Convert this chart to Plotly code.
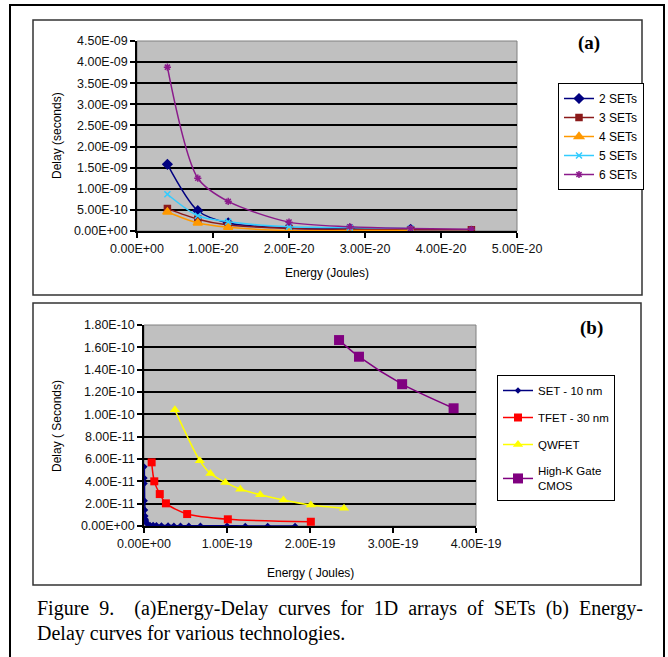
import plotly.graph_objects as go

W, H = 668, 657

# ---------------- Panel (a) data : Energy (J) vs Delay (s) ----------------
a_names = ["2 SETs", "3 SETs", "4 SETs", "5 SETs", "6 SETs"]
a_energy = {
    "2 SETs": [0.40e-20, 0.80e-20, 1.20e-20, 2.00e-20, 2.80e-20, 3.60e-20],
    "3 SETs": [0.40e-20, 0.80e-20, 1.20e-20, 2.00e-20, 2.80e-20, 3.60e-20, 4.40e-20],
    "4 SETs": [0.40e-20, 0.80e-20, 1.20e-20, 2.00e-20, 2.80e-20, 3.60e-20],
    "5 SETs": [0.40e-20, 0.80e-20, 1.20e-20, 2.00e-20, 2.80e-20, 3.60e-20],
    "6 SETs": [0.40e-20, 0.80e-20, 1.20e-20, 2.00e-20, 2.80e-20, 3.60e-20, 4.40e-20],
}
a_delay = {
    "2 SETs": [1.58e-9, 0.48e-9, 0.19e-9, 0.07e-9, 0.05e-9, 0.04e-9],
    "3 SETs": [0.53e-9, 0.28e-9, 0.14e-9, 0.06e-9, 0.04e-9, 0.03e-9, 0.03e-9],
    "4 SETs": [0.45e-9, 0.19e-9, 0.09e-9, 0.01e-9, 0.01e-9, 0.01e-9],
    "5 SETs": [0.87e-9, 0.36e-9, 0.22e-9, 0.10e-9, 0.08e-9, 0.06e-9],
    "6 SETs": [3.88e-9, 1.25e-9, 0.70e-9, 0.21e-9, 0.10e-9, 0.06e-9, 0.04e-9],
}
a_colors = ["#000080", "#8B1A1A", "#FF9900", "#33CCFF", "#8B1A8B"]
a_symbols = ["diamond", "square", "triangle-up", "x-thin-open", "asterisk-open"]
a_sizes = [7, 6, 8, 6, 6]

a_xticks = [0, 1e-20, 2e-20, 3e-20, 4e-20, 5e-20]
a_xticklabels = ["0.00E+00", "1.00E-20", "2.00E-20", "3.00E-20", "4.00E-20", "5.00E-20"]
a_yticks = [0, 0.5e-9, 1.0e-9, 1.5e-9, 2.0e-9, 2.5e-9, 3.0e-9, 3.5e-9, 4.0e-9, 4.5e-9]
a_yticklabels = ["0.00E+00", "5.00E-10", "1.00E-09", "1.50E-09", "2.00E-09",
                 "2.50E-09", "3.00E-09", "3.50E-09", "4.00E-09", "4.50E-09"]

# ---------------- Panel (b) data ----------------
b_names = ["SET - 10 nm", "TFET - 30 nm", "QWFET", "High-K Gate<br>CMOS"]
b_energy = {
    "SET - 10 nm": [0.004e-19, 0.005e-19, 0.006e-19, 0.008e-19, 0.012e-19, 0.016e-19,
                    0.020e-19, 0.025e-19, 0.030e-19, 0.040e-19, 0.072e-19, 0.11e-19,
                    0.15e-19, 0.21e-19, 0.29e-19, 0.36e-19, 0.44e-19, 0.54e-19,
                    0.68e-19, 1.00e-19, 1.22e-19, 1.49e-19, 1.82e-19],
    "TFET - 30 nm": [0.092e-19, 0.124e-19, 0.19e-19, 0.264e-19, 0.52e-19, 1.01e-19, 2.01e-19],
    "QWFET": [0.372e-19, 0.672e-19, 0.80e-19, 0.98e-19, 1.16e-19, 1.40e-19, 1.68e-19,
              2.01e-19, 2.41e-19],
    "High-K Gate<br>CMOS": [2.35e-19, 2.59e-19, 3.11e-19, 3.73e-19],
}
b_delay = {
    "SET - 10 nm": [0.53e-10, 0.43e-10, 0.38e-10, 0.227e-10, 0.143e-10, 0.09e-10,
                    0.06e-10, 0.045e-10, 0.03e-10, 0.015e-10, 0.010e-10, 0.008e-10,
                    0.006e-10, 0.005e-10, 0.004e-10, 0.003e-10, 0.003e-10, 0.002e-10,
                    0.002e-10, 0.002e-10, 0.001e-10, 0.001e-10, 0.001e-10],
    "TFET - 30 nm": [0.57e-10, 0.40e-10, 0.286e-10, 0.203e-10, 0.107e-10, 0.06e-10, 0.038e-10],
    "QWFET": [1.04e-10, 0.585e-10, 0.47e-10, 0.39e-10, 0.33e-10, 0.28e-10, 0.233e-10,
              0.188e-10, 0.158e-10],
    "High-K Gate<br>CMOS": [1.665e-10, 1.516e-10, 1.27e-10, 1.054e-10],
}
b_colors = ["#000080", "#FF0000", "#FFFF00", "#800080"]
b_symbols = ["diamond", "square", "triangle-up", "square"]
b_sizes = [5, 8, 9, 10]

b_xticks = [0, 1e-19, 2e-19, 3e-19, 4e-19]
b_xticklabels = ["0.00E+00", "1.00E-19", "2.00E-19", "3.00E-19", "4.00E-19"]
b_yticks = [0, 0.2e-10, 0.4e-10, 0.6e-10, 0.8e-10, 1.0e-10, 1.2e-10, 1.4e-10, 1.6e-10, 1.8e-10]
b_yticklabels = ["0.00E+00", "2.00E-11", "4.00E-11", "6.00E-11", "8.00E-11",
                 "1.00E-10", "1.20E-10", "1.40E-10", "1.60E-10", "1.80E-10"]

caption_line1 = "Figure 9.  (a)Energy-Delay curves for 1D arrays of SETs (b) Energy-"
caption_line2 = "Delay curves for various technologies."


def px(x):
    return x / W


def py(y):
    return 1 - y / H


fig = go.Figure()

for i, n in enumerate(a_names):
    fig.add_trace(go.Scatter(
        x=a_energy[n], y=a_delay[n], name=n, mode="lines+markers",
        line=dict(color=a_colors[i], width=1.5, shape="spline", smoothing=0.8),
        marker=dict(symbol=a_symbols[i], size=a_sizes[i], color=a_colors[i],
                    line=dict(color=a_colors[i], width=1.5)),
        xaxis="x", yaxis="y", legend="legend",
    ))

for i, n in enumerate(b_names):
    fig.add_trace(go.Scatter(
        x=b_energy[n], y=b_delay[n], name=n, mode="lines+markers",
        line=dict(color=b_colors[i], width=1.5, shape="spline",
                  smoothing=0.5 if i == 0 else 0.8),
        marker=dict(symbol=b_symbols[i], size=b_sizes[i], color=b_colors[i]),
        xaxis="x2", yaxis="y2", legend="legend2", legendgroup=n,
    ))

tickfont = dict(family="Liberation Sans, Arial", size=12.5, color="#111")
axis_common = dict(showline=True, linecolor="black", linewidth=1.5, ticks="outside",
                   ticklen=5, tickwidth=1.5, tickcolor="black", tickfont=tickfont,
                   zeroline=False, automargin=False)

fig.update_layout(
    template="none",
    width=W, height=H, margin=dict(l=0, r=0, t=0, b=0, pad=0, autoexpand=False),
    paper_bgcolor="white", plot_bgcolor="#C0C0C0",
    xaxis=dict(domain=[px(137), px(517)], anchor="y", range=[0, 5e-20],
               tickvals=a_xticks, ticktext=a_xticklabels, showgrid=False, **axis_common),
    yaxis=dict(domain=[py(231), py(41)], anchor="x", range=[0, 4.5e-9],
               tickvals=a_yticks, ticktext=a_yticklabels, showgrid=True,
               gridcolor="black", gridwidth=1.5, **axis_common),
    xaxis2=dict(domain=[px(144), px(476)], anchor="y2", range=[0, 4e-19],
                tickvals=b_xticks, ticktext=b_xticklabels, showgrid=False, **axis_common),
    yaxis2=dict(domain=[py(526), py(325)], anchor="x2", range=[0, 1.8e-10],
                tickvals=b_yticks, ticktext=b_yticklabels, showgrid=True,
                gridcolor="black", gridwidth=1.5, **axis_common),
    legend=dict(x=px(558), y=py(83), xanchor="left", yanchor="top",
                bordercolor="black", borderwidth=1, bgcolor="white",
                font=dict(family="Liberation Sans, Arial", size=12, color="black"),
                tracegroupgap=0, itemwidth=30),
    legend2=dict(x=px(497), y=py(375), xanchor="left", yanchor="top",
                 bordercolor="black", borderwidth=1, bgcolor="white",
                 font=dict(family="Liberation Sans, Arial", size=11.5, color="black"),
                 tracegroupgap=8, itemwidth=30),
    showlegend=True,
)

shapes = []
# outer frame
shapes.append(dict(type="rect", xref="paper", yref="paper", x0=px(10), x1=px(664),
                   y0=py(700), y1=py(5), line=dict(color="black", width=2)))
# panel boxes
shapes.append(dict(type="rect", xref="paper", yref="paper", x0=px(33), x1=px(642),
                   y0=py(295), y1=py(20), line=dict(color="#333", width=1.5)))
shapes.append(dict(type="rect", xref="paper", yref="paper", x0=px(33), x1=px(641),
                   y0=py(585), y1=py(303), line=dict(color="#333", width=1.5)))
# plot area borders (gray)
shapes.append(dict(type="rect", xref="paper", yref="paper", x0=px(137), x1=px(517),
                   y0=py(231), y1=py(41), line=dict(color="#808080", width=1), layer="below"))
shapes.append(dict(type="rect", xref="paper", yref="paper", x0=px(144), x1=px(476),
                   y0=py(526), y1=py(325), line=dict(color="#808080", width=1), layer="below"))
fig.update_layout(shapes=shapes)

title_font = dict(family="Liberation Sans, Arial", size=12, color="black")
cap_font = dict(family="Liberation Serif, Times New Roman", size=20, color="black")
ann = [
    dict(text="Delay (seconds)", x=px(57), y=py(136), textangle=-90, font=title_font),
    dict(text="Energy (Joules)", x=px(327), y=py(273), font=title_font),
    dict(text="Delay ( Seconds)", x=px(57), y=py(426), textangle=-90, font=title_font),
    dict(text="Energy ( Joules)", x=px(310), y=py(573), font=title_font),
    dict(text="<b>(a)</b>", x=px(589), y=py(43),
         font=dict(family="Liberation Serif, Times New Roman", size=19, color="black")),
    dict(text="<b>(b)</b>", x=px(591), y=py(328),
         font=dict(family="Liberation Serif, Times New Roman", size=19, color="black")),
    dict(text='<span style="word-spacing:5px">' + caption_line1 + "</span>",
         x=px(35), y=py(608), xanchor="left", font=cap_font),
    dict(text=caption_line2, x=px(35), y=py(633), xanchor="left", font=cap_font),
]
for a in ann:
    a.update(xref="paper", yref="paper", showarrow=False)
    a.setdefault("xanchor", "center")
    a.setdefault("yanchor", "middle")
fig.update_layout(annotations=ann)

fig.write_html("out.html")
